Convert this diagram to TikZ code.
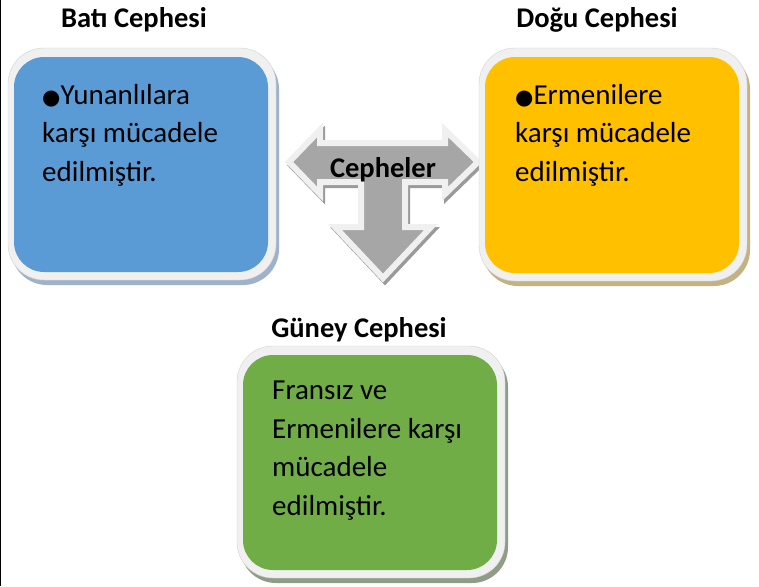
\documentclass[tikz,border=0pt]{standalone}
\usepackage{fontspec}
\setmainfont{Carlito}
\newfontfamily\dotfont{DejaVu Sans}
\usetikzlibrary{calc}

\definecolor{batiblue}{HTML}{5B9BD5}
\definecolor{batishadow}{HTML}{9FB2CC}
\definecolor{doguorange}{HTML}{FFC000}
\definecolor{dogushadow}{HTML}{C4B283}
\definecolor{guneygreen}{HTML}{70AD47}
\definecolor{guneyshadow}{HTML}{8E9E86}
\definecolor{framegrey}{HTML}{F0F0F0}
\definecolor{arrowgrey}{HTML}{A6A6A6}
\definecolor{arrowshadow}{HTML}{9A9A9A}

\newcommand{\cephearrow}{(289,162) -- (320,130) -- (320,143) -- (445,143) -- (445,130)
  -- (478,162) -- (445,194) -- (445,182) -- (405,182) -- (405,227) -- (431,227)
  -- (383,278) -- (335,227) -- (361,227) -- (361,182) -- (320,182) -- (320,194) -- cycle}
\newcommand{\bigdot}{{\dotfont\fontsize{21}{38}\selectfont ●}}

\begin{document}
\begin{tikzpicture}[x=1pt,y=-1pt,
    title/.style={font=\bfseries\fontsize{28.5}{32}\selectfont, inner sep=0pt},
    body/.style={font=\fontsize{29}{38.5}\selectfont, align=left, inner sep=0pt, anchor=north west}]
  \useasboundingbox (0,0) rectangle (759,586);
  \draw[line width=1pt] (0.5,0) -- (0.5,586); %page edge

  % Cepheler arrow
  \draw[arrowshadow, fill=arrowshadow, line width=6pt, shift={(2,3)}] \cephearrow;
  \draw[framegrey, fill=arrowgrey, line width=6pt] \cephearrow;
  \node[title] (cephe) at (383,170) {Cepheler};

  % boxes: shadow, frame, coloured inside
  \foreach \xa/\ya/\xb/\yb/\c/\s in {14/57/268/272/batiblue/batishadow,
                                      485/57/739/273/doguorange/dogushadow,
                                      243/355/497/570/guneygreen/guneyshadow} {
    \fill[\s, rounded corners=36pt] (\xa-6+3,\ya-9+5) rectangle (\xb+8+3,\yb+8+5);
    \fill[framegrey, rounded corners=36pt] (\xa-6,\ya-9) rectangle (\xb+8,\yb+8);
    \draw[gray!35, line width=.4pt, rounded corners=36pt] (\xa-6,\ya-9) rectangle (\xb+8,\yb+8);
    \fill[\c, rounded corners=30pt] (\xa,\ya) rectangle (\xb,\yb);
  }

  % titles
  \node[title] (bati) at (134,20) {Batı Cephesi};
  \node[title] (dogu) at (597,20) {Doğu Cephesi};
  \node[title] (guney) at (359,330) {Güney Cephesi};

  % texts
  \node[body] (batitxt) at (42,84) {\bigdot Yunanlılara\\karşı mücadele\\edilmiştir.};
  \node[body] (dogutxt) at (515,84) {\bigdot Ermenilere\\karşı mücadele\\edilmiştir.};
  \node[body] (guneytxt) at (272,381) {Fransız ve\\Ermenilere karşı\\mücadele\\edilmiştir.};
\end{tikzpicture}
\end{document}
